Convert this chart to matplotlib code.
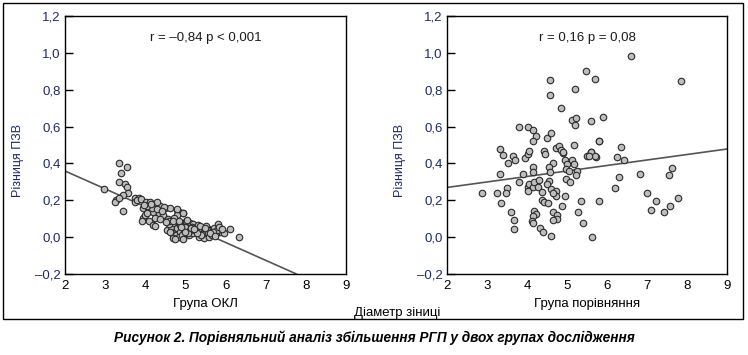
import numpy as np
import matplotlib
matplotlib.use("Agg")
import matplotlib.pyplot as plt
from matplotlib.patches import Rectangle

plt.rcParams['font.family'] = ['Liberation Sans', 'DejaVu Sans']

# group OKL (left panel)
okl_x = [3.35, 3.54, 3.40, 3.35, 3.49, 2.97, 3.54, 3.57, 3.45, 3.27, 3.25, 3.35, 3.45,
         3.74, 3.84, 3.74, 3.80,
         3.89, 4.02, 4.12, 4.24, 4.37, 4.49, 4.62, 4.79, 4.85, 4.94, 4.80, 3.95, 4.08,
         4.20, 4.33, 4.45, 4.25, 4.37, 3.94, 4.10, 4.20, 4.54, 4.64, 4.70, 4.79, 4.87,
         4.66, 4.77, 4.87, 4.95, 5.04, 5.12, 5.20, 5.29, 5.37, 5.45, 5.54, 5.62, 5.70,
         5.80, 5.87, 5.95, 4.70, 4.83, 4.95, 5.08, 5.20, 5.33, 5.45, 5.58, 5.66, 6.12,
         6.34, 4.99, 5.12, 5.25, 5.54, 5.75, 5.41, 5.79, 4.58, 4.91, 4.78, 4.93, 4.47,
         3.91, 4.24, 4.74, 4.95, 4.16, 4.29, 4.41, 4.56, 5.02, 5.16, 5.31, 5.50, 5.68,
         4.60, 4.72, 5.06, 5.40, 4.05, 3.99,
         4.52, 4.68, 4.83, 5.00, 5.14, 5.28, 5.36, 5.49, 5.60, 5.73, 5.84, 5.90, 4.62,
         4.88, 5.05, 5.22, 4.30, 4.15, 4.05, 3.98]
okl_y = [0.40, 0.38, 0.35, 0.30, 0.29, 0.26, 0.27, 0.24, 0.23, 0.20, 0.19, 0.21, 0.14,
         0.21, 0.21, 0.19, 0.20,
         0.207, 0.189, 0.193, 0.178, 0.171, 0.160, 0.160, 0.148, 0.135, 0.130, 0.120,
         0.157, 0.148, 0.139, 0.130, 0.120, 0.106, 0.099, 0.102, 0.088, 0.066, 0.039,
         0.057, 0.075, 0.048, 0.066, 0.021, 0.012, 0.030, 0.048, 0.066, 0.075, 0.070,
         0.057, 0.039, 0.030, 0.021, 0.039, 0.048, 0.070, 0.030, 0.021, -0.003, 0.003,
         -0.006, 0.012, 0.021, 0.003, -0.003, 0.003, 0.012, 0.043, 0.003, 0.057, 0.039,
         0.039, 0.048, 0.021, 0.016, 0.039, 0.070, 0.012, 0.151, 0.133, 0.162, 0.085,
         0.060, -0.01, -0.01, 0.160, 0.150, 0.140, 0.100, 0.090, 0.055, 0.065, 0.060,
         0.030, 0.090, 0.105, 0.025, 0.010, 0.170, 0.120,
         0.080, 0.090, 0.085, 0.030, 0.050, 0.020, 0.060, 0.050, 0.025, 0.005, 0.055,
         0.045, 0.030, 0.055, 0.095, 0.045, 0.190, 0.180, 0.130, 0.175]

# comparison group (right panel)
cmp_x = [3.32, 3.41, 3.33, 3.52, 3.65, 3.71, 3.50, 3.48, 3.34, 2.87, 3.24, 3.61, 3.68,
         3.67, 3.79, 3.89, 3.94, 4.03, 4.06, 4.02, 4.02, 4.06, 4.14, 4.18, 4.14, 4.16,
         4.31, 4.27, 4.37, 4.37, 4.43, 4.52, 4.18, 4.22, 4.14, 4.13, 4.14, 4.32, 4.41,
         4.61, 4.43, 4.45, 4.64, 4.56, 4.57, 4.56, 4.51, 4.61, 4.72, 4.72, 4.64, 4.66,
         4.75, 4.75, 4.66, 4.72, 4.79, 4.85, 4.90, 4.94, 5.01, 4.97, 5.04, 4.97, 5.07,
         4.95, 4.87, 5.13, 5.17, 5.18, 5.26, 5.23, 5.34, 5.28, 5.40, 5.63, 5.51, 5.61,
         5.73, 5.80, 5.81, 6.19, 6.26, 6.30, 6.36, 6.42, 6.82, 6.99, 7.22, 7.09, 7.43,
         7.58, 7.56, 7.62, 7.77,
         4.58, 4.58, 5.47, 5.70, 5.20, 4.85, 5.12, 5.23, 5.20, 5.59, 3.79, 4.02, 4.14,
         4.22, 4.16, 4.49, 4.61, 5.80, 6.61, 7.86, 5.91, 4.89, 5.59, 5.71, 5.55]
cmp_y = [0.481, 0.446, 0.340, 0.401, 0.441, 0.419, 0.268, 0.239, 0.185, 0.239, 0.239,
         0.138, 0.095, 0.045, 0.299, 0.342, 0.432, 0.450, 0.468, 0.270, 0.248, 0.288,
         0.270, 0.300, 0.378, 0.356, 0.311, 0.270, 0.246, 0.199, 0.189, 0.183, 0.144,
         0.126, 0.113, 0.090, 0.077, 0.048, 0.027, 0.005, 0.468, 0.450, 0.405, 0.378,
         0.351, 0.306, 0.288, 0.261, 0.252, 0.225, 0.239, 0.135, 0.120, 0.099, 0.093,
         0.486, 0.495, 0.473, 0.459, 0.419, 0.396, 0.369, 0.360, 0.315, 0.300, 0.225,
         0.167, 0.417, 0.396, 0.499, 0.360, 0.336, 0.198, 0.138, 0.077, -0.001, 0.441,
         0.463, 0.437, 0.520, 0.196, 0.266, 0.437, 0.329, 0.491, 0.419, 0.340, 0.239,
         0.196, 0.147, 0.138, 0.167, 0.336, 0.376, 0.214,
         0.852, 0.771, 0.903, 0.856, 0.802, 0.699, 0.634, 0.649, 0.609, 0.631, 0.600,
         0.596, 0.582, 0.549, 0.519, 0.540, 0.567, 0.522, 0.982, 0.845, 0.652, 0.463,
         0.463, 0.441, 0.438]

# regression lines (intercept, slope)
okl_fit = [0.553, -0.097]
cmp_fit = [0.210, 0.0298]

xticks = [2, 3, 4, 5, 6, 7, 8, 9]
yticks = [-0.2, 0.0, 0.2, 0.4, 0.6, 0.8, 1.0, 1.2]
ytick_labels = ['\u20130,2', '0,0', '0,2', '0,4', '0,6', '0,8', '1,0', '1,2']

fig = plt.figure(figsize=(7.48, 3.55), dpi=100)
fig.patches.append(Rectangle((0.004, 0.1014), 0.989, 0.890, transform=fig.transFigure,
                             fill=False, edgecolor='black', linewidth=1.0))

ax1 = fig.add_axes([0.0869, 0.2282, 0.3757, 0.7267])
ax2 = fig.add_axes([0.5976, 0.2282, 0.3743, 0.7267])

panels = [(ax1, okl_x, okl_y, okl_fit, 'Група ОКЛ', 'r = \u20130,84 p < 0,001'),
          (ax2, cmp_x, cmp_y, cmp_fit, 'Група порівняння', 'r = 0,16 p = 0,08')]

for ax, xs, ys, fit, xlab, note in panels:
    ax.axline((0, fit[0]), slope=fit[1], color='#555555', linewidth=1.2, zorder=1)
    ax.scatter(xs, ys, s=22, facecolor='#bdbdbd', edgecolor='#2a2a2a',
               linewidths=0.8, zorder=2)
    ax.set_xlim(2, 9)
    ax.set_ylim(-0.2, 1.2)
    ax.set_xticks(xticks)
    ax.set_yticks(yticks)
    ax.set_yticklabels(ytick_labels)
    ax.tick_params(axis='x', length=0, pad=4, labelsize=9.5, labelcolor='black')
    ax.tick_params(axis='y', direction='in', length=6, width=1, pad=3,
                   labelsize=9.5, labelcolor='#1c2a6b')
    for sp in ax.spines.values():
        sp.set_linewidth(1.0)
    ax.set_xlabel(xlab, fontsize=9.5, labelpad=5)
    ax.set_ylabel('Різниця ПЗВ', fontsize=9, color='#1c2a6b')
    ax.yaxis.set_label_coords(-0.145, 0.44)
    ax.text(0.5, 0.915, note, transform=ax.transAxes, ha='center', va='center',
            fontsize=9.5, color='#1a1a1a')

fig.text(397 / 748, 1 - 313 / 355, 'Діаметр зіниці', ha='center', va='center',
         fontsize=9.5)
fig.text(374 / 748, 1 - 338 / 355,
         'Рисунок 2. Порівняльний аналіз збільшення РГП у двох групах дослідження',
         ha='center', va='center', fontsize=9.8,
         fontweight='bold', fontstyle='italic')

fig.savefig('out.png', dpi=100)
